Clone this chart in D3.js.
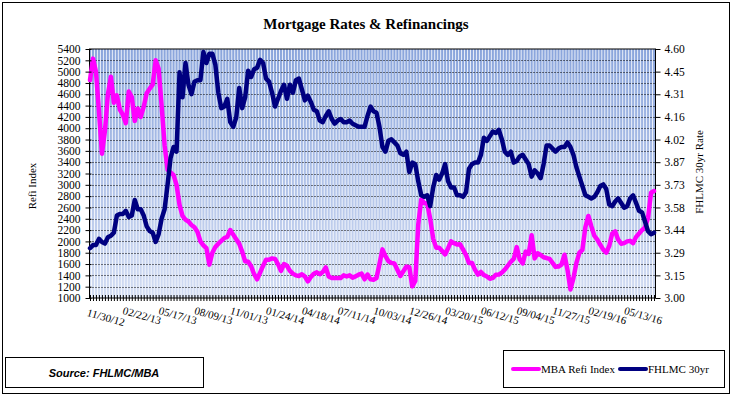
<!DOCTYPE html>
<html>
<head>
<meta charset="utf-8">
<script src="https://cdn.jsdelivr.net/npm/d3@7"></script>
<style>
  body { margin: 0; background: #fff; }
  text { font-family: "Liberation Serif", "Times New Roman", serif; }
</style>
</head>
<body>
<script>
// weekly values, first week 11/30/12
const dateLabels = ["11/30/12","02/22/13","05/17/13","08/09/13","11/01/13","01/24/14","04/18/14","07/11/14",
  "10/03/14","12/26/14","03/20/15","06/12/15","09/04/15","11/27/15","02/19/16","05/13/16"];
const labelEvery = 12; // one label every 12 weeks

const refiIndex = [
  4850,5230,5000,4300,3550,3950,4600,4910,4450,4580,
  4330,4240,4090,4650,4550,4130,4350,4200,4380,4620,
  4700,4770,5200,5050,4400,3700,3265,3220,3170,3000,
  2645,2450,2385,2350,2290,2250,2170,2000,1930,1880,
  1590,1800,1900,1960,2010,2060,2080,2200,2120,2040,
  1960,1820,1650,1640,1560,1420,1330,1450,1570,1675,
  1675,1700,1690,1600,1480,1600,1570,1480,1430,1400,
  1390,1420,1380,1294,1370,1430,1455,1420,1460,1540,
  1380,1353,1353,1353,1353,1400,1382,1400,1360,1382,
  1412,1430,1330,1415,1330,1324,1353,1600,1860,1740,
  1650,1620,1610,1500,1390,1471,1555,1545,1206,1300,
  2300,2740,2680,2670,2400,2050,1890,1890,1830,1770,
  1880,2000,1970,1945,1950,1860,1760,1620,1618,1500,
  1412,1460,1405,1380,1340,1355,1412,1415,1450,1500,
  1570,1640,1690,1900,1680,1610,1820,1780,2110,1700,
  1790,1760,1720,1706,1690,1620,1550,1555,1590,1765,
  1500,1150,1350,1620,1800,1850,2250,2450,2265,2100,
  2030,1940,1855,1800,1920,2140,2176,2030,1960,1970,
  2000,2010,1970,2080,2140,2200,2250,2412,2860,2890
];

const fhlmc30 = [
  3.32,3.34,3.34,3.38,3.36,3.35,3.39,3.40,3.42,3.53,
  3.54,3.54,3.56,3.52,3.53,3.63,3.57,3.57,3.53,3.46,
  3.43,3.42,3.36,3.41,3.51,3.57,3.73,3.90,3.97,3.94,
  4.45,4.29,4.51,4.37,4.31,4.39,4.40,4.40,4.58,4.51,
  4.57,4.57,4.50,4.32,4.22,4.23,4.28,4.13,4.10,4.16,
  4.35,4.22,4.29,4.46,4.42,4.47,4.48,4.53,4.51,4.41,
  4.39,4.32,4.23,4.28,4.33,4.37,4.28,4.37,4.32,4.40,
  4.41,4.34,4.27,4.30,4.26,4.21,4.20,4.14,4.13,4.17,
  4.20,4.15,4.12,4.14,4.15,4.13,4.13,4.14,4.12,4.11,
  4.10,4.10,4.10,4.17,4.23,4.20,4.19,4.10,3.97,3.94,
  4.01,4.02,4.00,3.98,3.93,3.92,3.94,3.81,3.87,3.86,
  3.75,3.66,3.65,3.66,3.59,3.71,3.79,3.76,3.80,3.86,
  3.75,3.71,3.71,3.66,3.66,3.65,3.68,3.83,3.86,3.87,
  3.87,3.92,4.03,4.01,4.04,4.07,4.06,4.08,4.02,3.94,
  3.92,3.94,3.87,3.88,3.91,3.92,3.89,3.86,3.78,3.82,
  3.80,3.77,3.86,3.98,3.98,3.96,3.94,3.96,3.97,3.97,
  4.00,3.97,3.92,3.84,3.78,3.72,3.66,3.65,3.64,3.65,
  3.68,3.72,3.73,3.70,3.60,3.59,3.62,3.64,3.61,3.58,
  3.59,3.64,3.66,3.61,3.56,3.55,3.49,3.43,3.41,3.42
];

const refiTicks = d3.range(1000, 5401, 200);
const rateTickLabels = ["3.00","3.15","3.29","3.44","3.58","3.73","3.87","4.02","4.16","4.31","4.45","4.60"];

const W = 732, H = 396;
const pL = 89.5, pR = 655.5, pT = 49, pB = 298;

let svg = d3.select("body").append("svg")
    .attr("width", W)
    .attr("height", H);

// outer border
svg.append("rect").attr("x", 2.5).attr("y", 2.5).attr("width", 727).attr("height", 391)
    .attr("fill", "#fff").attr("stroke", "#000");

svg.append("text").attr("x", 366).attr("y", 29).attr("text-anchor", "middle")
    .style("font-size", "15px").style("font-weight", "bold")
    .text("Mortgage Rates & Refinancings");

let x = d3.scaleLinear().domain([0, refiIndex.length - 1]).range([90, 654]);
let yL = d3.scaleLinear().domain([1000, 5400]).range([pB, pT]);
let yR = d3.scaleLinear().domain([3.0, 4.6]).range([pB, pT]);

// plot background: gradient with weekly white stripes
let grad = svg.append("defs").append("linearGradient").attr("id", "bg")
    .attr("x1", 0).attr("y1", 0).attr("x2", 0).attr("y2", 1);
grad.append("stop").attr("offset", "0%").attr("stop-color", "#8aa5dc");
grad.append("stop").attr("offset", "100%").attr("stop-color", "#d3ddf3");

svg.append("rect").attr("x", pL).attr("y", pT).attr("width", pR - pL).attr("height", pB - pT)
    .attr("fill", "url(#bg)");

svg.append("g").selectAll("line")
    .data(d3.range(refiIndex.length))
    .enter().append("line")
    .attr("x1", d => x(d) + 1.5).attr("x2", d => x(d) + 1.5)
    .attr("y1", pT).attr("y2", pB)
    .attr("stroke", "#fff").attr("stroke-opacity", 0.8).attr("stroke-width", 1);

// dotted gridlines
svg.append("g").selectAll("line")
    .data(refiTicks.filter(d => d > 1000 && d < 5400))
    .enter().append("line")
    .attr("x1", pL).attr("x2", pR)
    .attr("y1", d => Math.round(yL(d)) + 0.5).attr("y2", d => Math.round(yL(d)) + 0.5)
    .attr("stroke", "#000").attr("stroke-dasharray", "1,2");

svg.append("rect").attr("x", pL).attr("y", pT).attr("width", pR - pL).attr("height", pB - pT)
    .attr("fill", "none").attr("stroke", "#000");

// lines
let refiLine = d3.line().x((d, i) => x(i)).y(d => yL(d));
let rateLine = d3.line().x((d, i) => x(i)).y(d => yR(d));

svg.append("path").datum(refiIndex).attr("d", refiLine)
    .attr("fill", "none").attr("stroke", "#ff00ff").attr("stroke-width", 4.5)
    .attr("stroke-linejoin", "round").attr("stroke-linecap", "round");
svg.append("path").datum(fhlmc30).attr("d", rateLine)
    .attr("fill", "none").attr("stroke", "#000080").attr("stroke-width", 4.5)
    .attr("stroke-linejoin", "round").attr("stroke-linecap", "round");

// left axis
let axL = svg.append("g").attr("transform", `translate(${pL},0)`)
    .call(d3.axisLeft(yL).tickValues(refiTicks).tickSize(4).tickFormat(d3.format("d")));
axL.select(".domain").remove();
axL.selectAll("line").attr("x1", 2);
axL.selectAll("text").attr("x", -9).style("font-size", "11.5px")
    .style("font-family", "Liberation Serif");

// right axis
let rateTicks = rateTickLabels.map((d, k) => 3 + k * 1.6 / 11);
let axR = svg.append("g").attr("transform", `translate(${pR},0)`)
    .call(d3.axisRight(yR).tickValues(rateTicks).tickSize(5)
        .tickFormat((d, k) => rateTickLabels[k]));
axR.select(".domain").remove();
axR.selectAll("text").attr("x", 9).style("font-size", "11.5px")
    .style("font-family", "Liberation Serif");

// bottom axis, one tick per week
let axB = svg.append("g").attr("transform", `translate(0,${pB})`)
    .call(d3.axisBottom(x).tickValues(d3.range(refiIndex.length)).tickSize(3).tickFormat(""));
axB.select(".domain").remove();
axB.selectAll("line").attr("y1", -3);

svg.append("g").selectAll("text")
    .data(dateLabels)
    .enter().append("text")
    .attr("transform", (d, k) => `translate(${x(k * labelEvery) - 1.5},${pB + (k === 0 ? 10 : 8)}) rotate(16)`)
    .attr("dominant-baseline", "hanging")
    .style("font-size", "11px")
    .text(d => d);

// axis titles
svg.append("text").attr("transform", "translate(36,186) rotate(-90)")
    .attr("text-anchor", "middle").style("font-size", "11px").text("Refi Index");
svg.append("text").attr("transform", "translate(703,172) rotate(-90)")
    .attr("text-anchor", "middle").style("font-size", "11px").text("FHLMC 30yr Rate");

// source box
svg.append("rect").attr("x", 5.5).attr("y", 357.5).attr("width", 198).attr("height", 30)
    .attr("fill", "#fff").attr("stroke", "#000");
svg.append("text").attr("x", 104).attr("y", 377).attr("text-anchor", "middle")
    .style("font-family", "Liberation Sans, Arial, sans-serif")
    .style("font-size", "11px").style("font-weight", "bold").style("font-style", "italic")
    .text("Source: FHLMC/MBA");

// legend
svg.append("rect").attr("x", 503.5).attr("y", 350.5).attr("width", 221).attr("height", 37)
    .attr("fill", "#fff").attr("stroke", "#000");
let legendItems = [
  { name: "MBA Refi Index", color: "#ff00ff", x0: 513 },
  { name: "FHLMC 30yr", color: "#000080", x0: 620 }
];
let lg = svg.append("g").selectAll("g").data(legendItems).enter().append("g");
lg.append("line").attr("x1", d => d.x0).attr("x2", d => d.x0 + 26)
    .attr("y1", 369).attr("y2", 369)
    .attr("stroke", d => d.color).attr("stroke-width", 4).attr("stroke-linecap", "round");
lg.append("text").attr("x", d => d.x0 + 28).attr("y", 373)
    .style("font-size", "11px").text(d => d.name);
</script>
</body>
</html>
